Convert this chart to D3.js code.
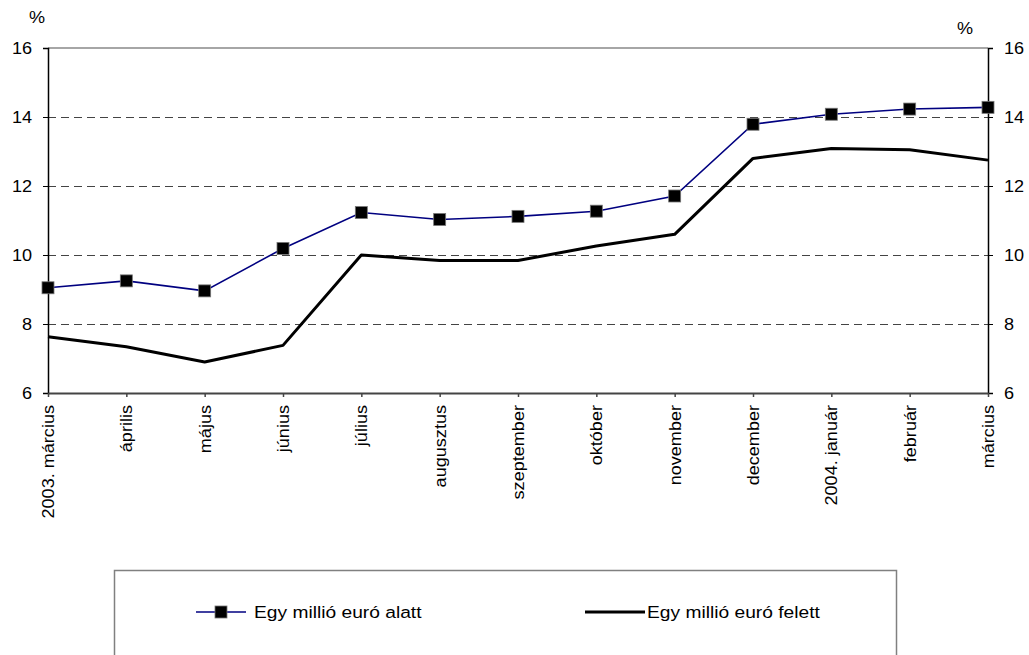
<!DOCTYPE html>
<html>
<head>
<meta charset="utf-8">
<script src="https://cdn.jsdelivr.net/npm/d3@7"></script>
<style>
  html, body { margin: 0; padding: 0; background: #fff; }
  svg { display: block; font-family: "Liberation Sans", Arial, sans-serif; }
</style>
</head>
<body>
<svg id="chart" width="1029" height="655"></svg>
<script>
// Monthly categories, March 2003 – March 2004
const months = ["2003. március", "április", "május", "június", "július", "augusztus", "szeptember", "október", "november", "december", "2004. január", "február", "március"];
// Interest rate (%) for loans under one million euro
const underOneMillion = [9.05, 9.25, 8.96, 10.19, 11.23, 11.03, 11.12, 11.27, 11.71, 13.79, 14.08, 14.23, 14.28];
// Interest rate (%) for loans over one million euro
const overOneMillion = [7.63, 7.34, 6.9, 7.38, 10.0, 9.84, 9.84, 10.26, 10.6, 12.8, 13.09, 13.05, 12.75];
const yTicks = [6, 8, 10, 12, 14, 16];
const seriesNames = ["Egy millió euró alatt", "Egy millió euró felett"];

const svg = d3.select("#chart");
const plotLeft = 48, plotRight = 988, plotTop = 48, plotBottom = 393;
const FONT = "'Liberation Sans', Arial, sans-serif";
const wide = 1.13; // slightly widened lettering

const x = d3.scalePoint().domain(months).range([plotLeft, plotRight]).padding(0);
const y = d3.scaleLinear().domain([6, 16]).range([plotBottom, plotTop]);

// Dashed horizontal gridlines
svg.append("g").selectAll("line")
  .data(yTicks.filter(v => v > 6 && v < 16))
  .join("line")
  .attr("x1", plotLeft).attr("x2", plotRight)
  .attr("y1", d => Math.round(y(d)) + 0.5).attr("y2", d => Math.round(y(d)) + 0.5)
  .attr("stroke", "#444").attr("stroke-width", 1)
  .attr("stroke-dasharray", "8,5");

// Top frame line
svg.append("line")
  .attr("x1", plotLeft).attr("x2", plotRight)
  .attr("y1", y(16)).attr("y2", y(16))
  .attr("stroke", "#888").attr("stroke-width", 1.5);

// Left and right value axes
const yLeft = d3.axisLeft(y).tickValues(yTicks).tickSize(5);
const yRight = d3.axisRight(y).tickValues(yTicks).tickSize(5);

const gl = svg.append("g").attr("transform", `translate(${plotLeft},0)`).call(yLeft);
const gr = svg.append("g").attr("transform", `translate(${plotRight},0)`).call(yRight);
[[gl, -16], [gr, 16]].forEach(([g, off]) => {
  g.select(".domain").attr("stroke", "#000").attr("stroke-width", 1.5);
  g.selectAll(".tick line").attr("stroke", "#000");
  g.selectAll(".tick text").attr("font-size", 16).attr("fill", "#000")
    .attr("font-family", FONT)
    .attr("x", 0)
    .attr("transform", `translate(${off},0) scale(${wide},1)`);
});

// Category axis
const xAxis = d3.axisBottom(x).tickSize(4).tickSizeOuter(0);
const gx = svg.append("g").attr("transform", `translate(0,${plotBottom})`).call(xAxis);
gx.select(".domain").attr("stroke", "#444").attr("stroke-width", 2);
gx.selectAll(".tick line").attr("stroke", "#444").attr("stroke-width", 1.5);
gx.selectAll(".tick text")
  .attr("font-size", 16).attr("fill", "#000")
  .attr("font-family", FONT)
  .attr("transform", `rotate(-90) translate(-12,0) scale(${wide},1)`)
  .attr("text-anchor", "end")
  .attr("x", 0).attr("y", 0).attr("dy", "0.35em");

// Unit labels
svg.append("text").attr("transform", `translate(37,23) scale(${wide},1)`).attr("text-anchor", "middle")
  .attr("font-size", 16).text("%");
svg.append("text").attr("transform", `translate(965,34) scale(${wide},1)`).attr("text-anchor", "middle")
  .attr("font-size", 16).text("%");

// Series lines
const line = d3.line().x((d, i) => x(months[i])).y(d => y(d));

svg.append("path").datum(overOneMillion)
  .attr("d", line).attr("fill", "none")
  .attr("stroke", "#000").attr("stroke-width", 3).attr("stroke-linejoin", "round");

svg.append("path").datum(underOneMillion)
  .attr("d", line).attr("fill", "none")
  .attr("stroke", "#000080").attr("stroke-width", 1.6);

// Square markers
const ms = 12;
svg.append("g").selectAll("rect")
  .data(underOneMillion)
  .join("rect")
  .attr("x", (d, i) => x(months[i]) - ms / 2)
  .attr("y", d => y(d) - ms / 2)
  .attr("width", ms).attr("height", ms)
  .attr("fill", "#000").attr("stroke", "#777").attr("stroke-width", 0.8);

// Legend box
const lg = svg.append("g");
lg.append("rect").attr("x", 114.5).attr("y", 570.5).attr("width", 782).attr("height", 120)
  .attr("fill", "#fff").attr("stroke", "#808080").attr("stroke-width", 1.5);

const ly = 612;
lg.append("line").attr("x1", 196).attr("x2", 246).attr("y1", ly).attr("y2", ly)
  .attr("stroke", "#000080").attr("stroke-width", 1.6);
lg.append("rect").attr("x", 221 - ms / 2).attr("y", ly - ms / 2).attr("width", ms).attr("height", ms)
  .attr("fill", "#000").attr("stroke", "#777").attr("stroke-width", 0.8);
lg.append("text").attr("transform", `translate(254,${ly}) scale(${wide},1)`).attr("dy", "0.35em")
  .attr("font-size", 17).text(seriesNames[0]);

lg.append("line").attr("x1", 585).attr("x2", 645).attr("y1", ly).attr("y2", ly)
  .attr("stroke", "#000").attr("stroke-width", 3);
lg.append("text").attr("transform", `translate(647,${ly}) scale(${wide},1)`).attr("dy", "0.35em")
  .attr("font-size", 17).text(seriesNames[1]);
</script>
</body>
</html>
